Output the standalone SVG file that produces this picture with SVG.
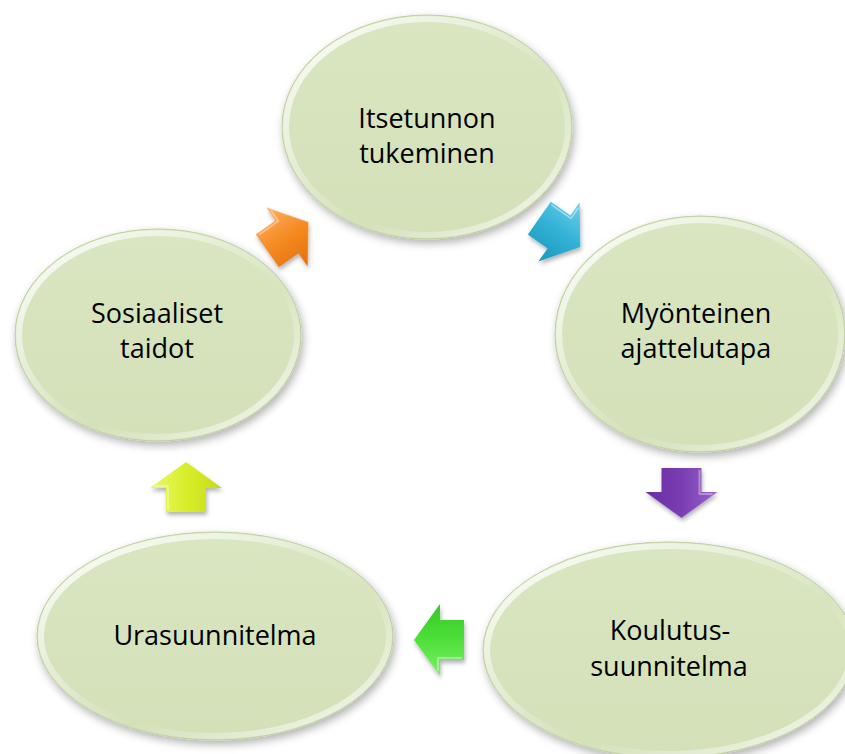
<svg xmlns="http://www.w3.org/2000/svg" width="845" height="754" viewBox="0 0 845 754">
<style>
.lbl{font-family:"Open Sans","Liberation Sans",sans-serif;font-size:27px;fill:#000;text-anchor:middle}
.base{fill:url(#fillG);stroke:#bfcfa0;stroke-width:1;filter:url(#shadow)}
.rim{fill:none;stroke:url(#rimG);stroke-width:6}
.arrowHi{fill:none;stroke:#ffffff;stroke-opacity:0.45;stroke-width:1.5}
</style>
<defs>
<filter id="shadow" x="-20%" y="-20%" width="140%" height="140%">
<feDropShadow dx="2" dy="4" stdDeviation="4" flood-color="#000" flood-opacity="0.3"/>
</filter>
<filter id="ashadow" x="-40%" y="-40%" width="180%" height="180%">
<feDropShadow dx="1" dy="3" stdDeviation="2" flood-color="#000" flood-opacity="0.3"/>
</filter>
<linearGradient id="fillG" x1="0" y1="0" x2="0" y2="1">
<stop offset="0" stop-color="#d9e6c1"/>
<stop offset="1" stop-color="#d3e0b8"/>
</linearGradient>
<linearGradient id="rimG" x1="0" y1="0" x2="1" y2="1">
<stop offset="0" stop-color="#ffffff" stop-opacity="0.95"/>
<stop offset="0.35" stop-color="#ffffff" stop-opacity="0.4"/>
<stop offset="0.6" stop-color="#ffffff" stop-opacity="0"/>
<stop offset="0.85" stop-color="#ffffff" stop-opacity="0.5"/>
<stop offset="1" stop-color="#ffffff" stop-opacity="0.8"/>
</linearGradient>
<linearGradient id="gOrange" x1="0" y1="0" x2="0" y2="1">
<stop offset="0" stop-color="#fbb062"/><stop offset="0.5" stop-color="#f58a22"/><stop offset="1" stop-color="#e2700c"/>
</linearGradient>
<linearGradient id="gCyan" x1="0" y1="0" x2="0" y2="1">
<stop offset="0" stop-color="#6fd0ea"/><stop offset="0.5" stop-color="#31b2d6"/><stop offset="1" stop-color="#1c97bc"/>
</linearGradient>
<linearGradient id="gPurple" x1="0" y1="0" x2="0" y2="1">
<stop offset="0" stop-color="#9a63cc"/><stop offset="0.5" stop-color="#7a3db2"/><stop offset="1" stop-color="#6a2ca0"/>
</linearGradient>
<linearGradient id="gGreen" x1="0" y1="0" x2="0" y2="1">
<stop offset="0" stop-color="#7ef06a"/><stop offset="0.5" stop-color="#4ee03a"/><stop offset="1" stop-color="#34c824"/>
</linearGradient>
<linearGradient id="gYellow" x1="0" y1="0" x2="0" y2="1">
<stop offset="0" stop-color="#eaf86a"/><stop offset="0.5" stop-color="#d8ee2a"/><stop offset="1" stop-color="#c6dc16"/>
</linearGradient>
<path id="arr" d="M -24,-20 L 0,-20 L 0,-36 L 26,0 L 0,36 L 0,20 L -24,20 Z"/>
</defs>
<rect width="845" height="754" fill="#ffffff"/>

<g id="node-itsetunnon">
<ellipse class="base" cx="427" cy="127" rx="145" ry="112"/>
<ellipse class="rim" cx="427" cy="127" rx="141" ry="108"/>
<text class="lbl" x="427" y="128">Itsetunnon</text>
<text class="lbl" x="427" y="163">tukeminen</text>
</g>
<g id="node-myonteinen">
<ellipse class="base" cx="700" cy="334" rx="145" ry="118"/>
<ellipse class="rim" cx="700" cy="334" rx="141" ry="114"/>
<text class="lbl" x="696" y="323">Myönteinen</text>
<text class="lbl" x="696" y="358">ajattelutapa</text>
</g>
<g id="node-koulutus">
<ellipse class="base" cx="669" cy="650" rx="186" ry="108"/>
<ellipse class="rim" cx="669" cy="650" rx="182" ry="104"/>
<text class="lbl" x="670" y="640">Koulutus-</text>
<text class="lbl" x="669" y="676">suunnitelma</text>
</g>
<g id="node-urasuunnitelma">
<ellipse class="base" cx="215" cy="636" rx="178" ry="104"/>
<ellipse class="rim" cx="215" cy="636" rx="174" ry="100"/>
<text class="lbl" x="215" y="645">Urasuunnitelma</text>
</g>
<g id="node-sosiaaliset">
<ellipse class="base" cx="158" cy="335" rx="143" ry="106"/>
<ellipse class="rim" cx="158" cy="335" rx="139" ry="102"/>
<text class="lbl" x="157" y="323">Sosiaaliset</text>
<text class="lbl" x="157" y="358">taidot</text>
</g>

<g id="connectors" filter="url(#ashadow)">
<g transform="translate(559,232) rotate(35)">
<use href="#arr" fill="url(#gCyan)"/>
<path class="arrowHi" d="M -22,-18 L 2,-18 L 2,-31"/>
</g>
<g transform="translate(681.5,492) rotate(90)">
<use href="#arr" fill="url(#gPurple)"/>
<path class="arrowHi" d="M -22,-18 L 2,-18 L 2,-31"/>
</g>
<g transform="translate(440,640) rotate(180)">
<use href="#arr" fill="url(#gGreen)"/>
<path class="arrowHi" d="M -22,-18 L 2,-18 L 2,-31"/>
</g>
<g transform="translate(186,488) rotate(-90)">
<use href="#arr" fill="url(#gYellow)"/>
<path class="arrowHi" d="M -22,-18 L 2,-18 L 2,-31"/>
</g>
<g transform="translate(287,237) rotate(-35)">
<use href="#arr" fill="url(#gOrange)"/>
<path class="arrowHi" d="M -22,-18 L 2,-18 L 2,-31"/>
</g>
</g>
</svg>
